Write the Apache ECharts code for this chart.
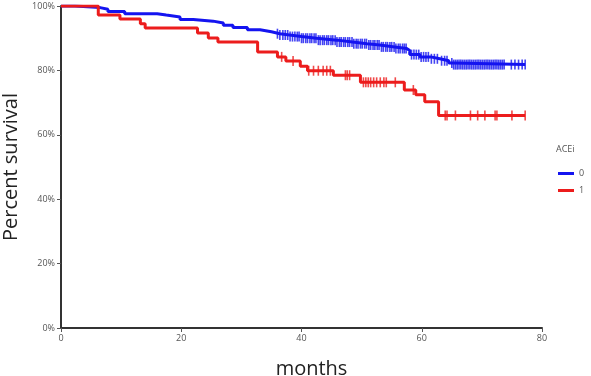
<!DOCTYPE html>
<html>
<head>
<meta charset="utf-8">
<script src="https://cdn.jsdelivr.net/npm/echarts@6/dist/echarts.min.js"></script>
<style>
html,body{margin:0;padding:0;background:#fff;}
#chart{width:591px;height:376px;}
</style>
</head>
<body>
<div id="chart"></div>
<script>
// Kaplan-Meier step points: [month, percent surviving]
var blueSteps = [[0,100],[2.3,99.5],[6.5,99.0],[7.8,98.3],[10.6,97.6],[16,97.2],[17.5,96.6],[19.8,95.8],[22,95.3],[25.3,94.7],[27,94.0],[28.6,93.3],[31,92.6],[33.1,92.0],[35,91.4],[36.4,91.0],[38,90.5],[40,90.0],[42.5,89.4],[45.9,88.8],[48.5,88.3],[50.9,87.9],[53,87.3],[55.5,86.8],[57.5,86.2],[58,84.9],[59.7,84.2],[61.5,83.6],[63,83.0],[64.5,82.3],[65.2,81.8],[77.2,81.8]];
var redSteps = [[0,100],[6.2,97.2],[9.8,96.0],[13.2,94.5],[14,93.2],[22.7,91.6],[24.5,90.1],[26.1,88.8],[32.7,85.7],[36,84.2],[37.4,82.9],[39.8,81.3],[41,79.9],[45.3,78.5],[49.8,76.3],[57.1,73.9],[59,72.4],[60.5,70.3],[62.8,66.0],[77.2,66.0]];
// censoring times (months)
var blueCensor = [36.0,36.4,36.9,37.3,37.7,38.1,38.5,38.9,39.3,39.6,40.0,40.3,40.7,41.0,41.4,41.7,42.1,42.4,42.8,43.1,43.5,43.8,44.2,44.5,44.9,45.2,45.6,45.9,46.3,46.6,47.0,47.3,47.7,48.0,48.4,48.7,49.1,49.4,49.8,50.1,50.5,50.8,51.2,51.5,51.9,52.2,52.6,52.9,53.3,53.6,54.0,54.3,54.7,55.0,55.4,55.7,56.1,56.4,56.8,57.1,57.4,58.3,58.7,59.1,59.5,59.9,60.3,60.7,61.1,61.6,62.1,62.6,63.3,63.8,64.2,65.0,65.3,65.6,65.9,66.2,66.5,66.8,67.1,67.4,67.7,68.0,68.3,68.6,68.9,69.2,69.5,69.8,70.1,70.4,70.7,71.0,71.3,71.6,71.9,72.2,72.5,72.8,73.1,73.4,73.7,74.9,75.5,76.1,76.7,77.2];
var redCensor = [36.7,38.6,41.2,42.0,42.8,43.6,44.2,44.8,47.3,47.6,48.0,50.3,50.7,51.1,51.5,52.0,52.5,53.1,53.7,54.1,55.6,58.6,63.9,64.2,65.6,68.1,69.3,70.5,72.2,72.5,75.0,77.2];
var groupNames = ['0','1'];
var legendTitle = 'ACEi';
var xTicks = {min:0,max:80,interval:20};
var yTicks = {min:0,max:100,interval:20};

function survAt(steps, t){
  var v = steps[0][1];
  for (var i=0;i<steps.length;i++){ if (steps[i][0] <= t) v = steps[i][1]; }
  return v;
}
var BLUE = '#1414f0', RED = '#ec1c1c';
var chart = echarts.init(document.getElementById('chart'));
chart.setOption({
  animation:false,
  backgroundColor:'#fff',
  grid:{left:61,right:49,top:6,bottom:48,containLabel:false,outerBoundsMode:'none'},
  xAxis:{type:'value',min:xTicks.min,max:xTicks.max,interval:xTicks.interval,
    name:'months',nameLocation:'middle',nameGap:31,
    nameTextStyle:{fontFamily:'Open Sans',fontSize:20,color:'#222',padding:[0,0,0,20]},
    axisLine:{show:true,onZero:false,lineStyle:{color:'#333',width:2}},
    axisTick:{show:true,length:4,lineStyle:{color:'#555'}},
    axisLabel:{fontFamily:'Open Sans',fontSize:9,color:'#555',margin:6},
    splitLine:{show:false}},
  yAxis:{type:'value',min:yTicks.min,max:yTicks.max,interval:yTicks.interval,
    name:'Percent survival',nameLocation:'middle',nameGap:35,
    nameTextStyle:{fontFamily:'Open Sans',fontSize:20,color:'#222'},
    axisLine:{show:true,onZero:false,lineStyle:{color:'#333',width:2}},
    axisTick:{show:true,length:4,lineStyle:{color:'#555'}},
    axisLabel:{fontFamily:'Open Sans',fontSize:9,color:'#555',margin:6,formatter:'{value}%'},
    splitLine:{show:false}},
  legend:{orient:'vertical',left:553,top:164,itemWidth:16,itemHeight:3,itemGap:8,icon:'rect',
    data:groupNames,textStyle:{fontFamily:'Open Sans',fontSize:9,color:'#555'}},
  graphic:[{type:'text',left:556,top:145,style:{text:legendTitle,font:'9px "Open Sans"',fill:'#555'}}],
  series:[
    {name:groupNames[0],type:'line',step:'end',data:blueSteps,showSymbol:false,color:BLUE,lineStyle:{width:3,color:BLUE},z:3},
    {name:groupNames[1],type:'line',step:'end',data:redSteps,showSymbol:false,color:RED,lineStyle:{width:3,color:RED},z:4},
    {name:'c0',type:'scatter',data:blueCensor.map(function(t){return [t,survAt(blueSteps,t)];}),symbol:'rect',symbolSize:[1.6,10],itemStyle:{color:BLUE},z:3},
    {name:'c1',type:'scatter',data:redCensor.map(function(t){return [t,survAt(redSteps,t)];}),symbol:'rect',symbolSize:[1.6,10],itemStyle:{color:RED},z:4}
  ]
});
</script>
</body>
</html>
